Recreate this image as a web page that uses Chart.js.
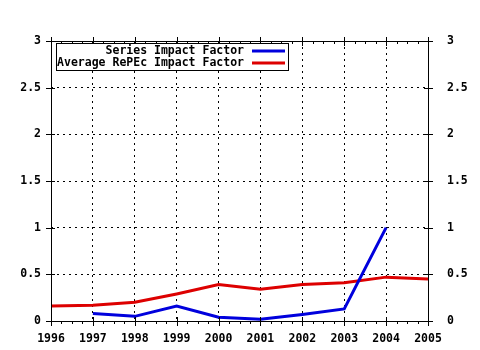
<!DOCTYPE html>
<html lang="en">
<head>
    <meta charset="UTF-8">
    <title>Impact Factor</title>
    <script src="https://cdn.jsdelivr.net/npm/chart.js"></script>
    <style>
        body { margin: 0; background: #fff; }
        #wrap { width: 480px; height: 350px; position: relative; }
    </style>
</head>
<body>
<div id="wrap"><canvas id="chart" width="480" height="350"></canvas></div>
<script>
// data
const years = [1996, 1997, 1998, 1999, 2000, 2001, 2002, 2003, 2004, 2005];
const seriesImpact = [null, 0.08, 0.05, 0.16, 0.04, 0.02, 0.07, 0.13, 1.0, null];
const repecImpact = [0.16, 0.17, 0.2, 0.29, 0.39, 0.34, 0.39, 0.41, 0.47, 0.45];
const seriesNames = ['Series Impact Factor', 'Average RePEc Impact Factor'];
const seriesColors = ['#0000dd', '#dd0000'];
const yTicks = [0, 0.5, 1, 1.5, 2, 2.5, 3];

const FONT = 'bold 11.5px "DejaVu Sans Mono", monospace';
const tickFont = { family: 'DejaVu Sans Mono', size: 11.5, weight: 'bold' };

function toPoints(vals) {
    return years.map((yr, i) => ({ x: yr, y: vals[i] }));
}

// frame, crossing ticks and the boxed legend
const framePlugin = {
    id: 'frame',
    afterDraw(chart) {
        const ctx = chart.ctx;
        const a = chart.chartArea;
        const xs = chart.scales.x;
        const ys = chart.scales.y;
        ctx.save();
        ctx.strokeStyle = '#000';
        ctx.lineWidth = 1;
        ctx.strokeRect(a.left + 0.5, a.top + 0.5, a.right - a.left, a.bottom - a.top);
        ctx.beginPath();
        years.forEach((yr, i) => {
            const px = Math.round(xs.getPixelForValue(yr)) + 0.5;
            ctx.moveTo(px, a.bottom - 4); ctx.lineTo(px, a.bottom + 5);
            ctx.moveTo(px, a.top - 4); ctx.lineTo(px, a.top + 5);
            if (i < years.length - 1) {
                for (let q = 1; q < 4; q++) {
                    const mx = Math.round(xs.getPixelForValue(yr + q / 4)) + 0.5;
                    ctx.moveTo(mx, a.bottom); ctx.lineTo(mx, a.bottom + 3);
                    ctx.moveTo(mx, a.top); ctx.lineTo(mx, a.top + 3);
                }
            }
        });
        yTicks.forEach(v => {
            const py = Math.round(ys.getPixelForValue(v)) + 0.5;
            ctx.moveTo(a.left - 5, py); ctx.lineTo(a.left + 4, py);
            ctx.moveTo(a.right - 4, py); ctx.lineTo(a.right + 5, py);
        });
        ctx.stroke();

        // legend
        const bx = a.left + 5, by = a.top + 2, bw = 232, bh = 27;
        ctx.fillStyle = '#fff';
        ctx.fillRect(bx, by, bw, bh);
        ctx.strokeRect(bx + 0.5, by + 0.5, bw, bh);
        ctx.font = FONT;
        ctx.textAlign = 'right';
        ctx.textBaseline = 'middle';
        seriesNames.forEach((name, i) => {
            const ly = by + 8 + i * 12;
            ctx.fillStyle = '#000';
            ctx.fillText(name, bx + 188, ly);
            ctx.strokeStyle = seriesColors[i];
            ctx.lineWidth = 3;
            ctx.beginPath();
            ctx.moveTo(bx + 196, ly); ctx.lineTo(bx + 229, ly);
            ctx.stroke();
        });
        ctx.restore();
    }
};

new Chart(document.getElementById('chart'), {
    type: 'line',
    data: {
        datasets: [
            { label: seriesNames[0], data: toPoints(seriesImpact), borderColor: seriesColors[0], borderWidth: 3, pointRadius: 0, tension: 0, spanGaps: false },
            { label: seriesNames[1], data: toPoints(repecImpact), borderColor: seriesColors[1], borderWidth: 3, pointRadius: 0, tension: 0 }
        ]
    },
    options: {
        responsive: false,
        animation: false,
        layout: { padding: { top: 41, bottom: 0, left: 0, right: 0 } },
        plugins: { legend: { display: false }, tooltip: { enabled: false } },
        scales: {
            x: {
                type: 'linear', min: 1996, max: 2005,
                afterBuildTicks: s => { s.ticks = years.map(v => ({ value: v })); },
                afterFit: s => { s.height = 29; },
                ticks: { color: '#000', font: tickFont, padding: 11, maxRotation: 0, callback: v => String(v) },
                grid: { color: '#000', lineWidth: 1, drawTicks: false },
                border: { display: false, dash: [2, 4] }
            },
            y: {
                position: 'left', min: 0, max: 3,
                afterBuildTicks: s => { s.ticks = yTicks.map(v => ({ value: v })); },
                afterFit: s => { s.width = 51; },
                ticks: { color: '#000', font: tickFont, padding: 10, callback: v => String(v) },
                grid: { color: '#000', lineWidth: 1, drawTicks: false },
                border: { display: false, dash: [2, 4] }
            },
            y2: {
                position: 'right', min: 0, max: 3,
                afterBuildTicks: s => { s.ticks = yTicks.map(v => ({ value: v })); },
                afterFit: s => { s.width = 52; },
                ticks: { color: '#000', font: tickFont, padding: 11, callback: v => String(v) },
                grid: { display: false },
                border: { display: false }
            }
        }
    },
    plugins: [framePlugin]
});
</script>
</body>
</html>
